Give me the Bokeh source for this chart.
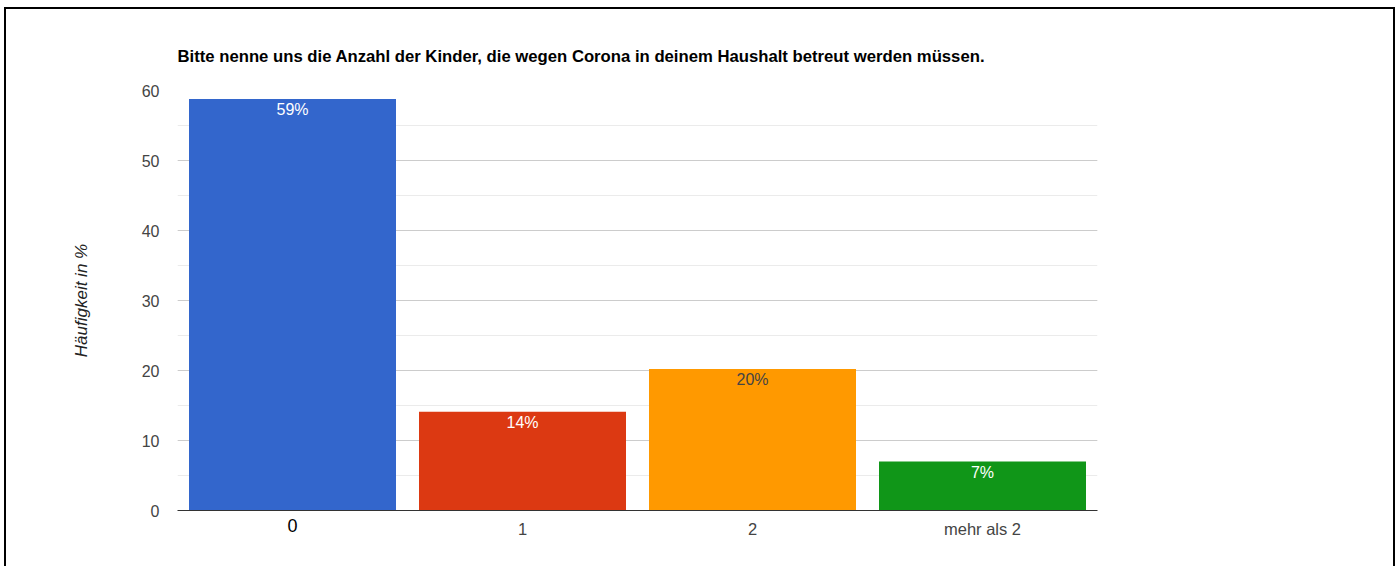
from bokeh.plotting import figure
from bokeh.models import (ColumnDataSource, FactorRange, Range1d, LabelSet,
                          SingleIntervalTicker, CustomJSTickFormatter, CategoricalAxis)
from bokeh.core.properties import value
from bokeh.embed import file_html
from bokeh.resources import INLINE

categories = ["0", "1", "2", "mehr als 2"]
values = [58.8, 14.1, 20.2, 7.0]
pct_labels = ["59%", "14%", "20%", "7%"]
colors = ["#3366CC", "#DC3912", "#FF9900", "#109618"]
label_colors = ["#ffffff", "#ffffff", "#444444", "#ffffff"]
y_ticks = [0, 10, 20, 30, 40, 50, 60]

title = "Bitte nenne uns die Anzahl der Kinder, die wegen Corona in deinem Haushalt betreut werden müssen."
y_label = "Häufigkeit in %"

FONT = "Liberation Sans"

src = ColumnDataSource(dict(cat=categories, val=values, lab=pct_labels,
                            col=colors, lcol=label_colors))

p = figure(width=1391, height=559, output_backend="svg", toolbar_location=None,
           x_range=FactorRange(*categories, range_padding=0),
           y_range=Range1d(0, 60),
           min_border_left=171, min_border_right=300, min_border_top=81,
           min_border_bottom=58)
p.styles = {"border-top": "2px solid black", "border-left": "2px solid black",
            "border-right": "2px solid black", "box-sizing": "border-box",
            "margin-top": "7px", "margin-left": "4px"}

p.title.text = title
p.title.text_font = FONT
p.title.text_font_size = "16.7px"
p.title.text_font_style = "bold"
p.title.text_color = "#000000"
p.title.align = "left"
p.title.offset = 0
p.title.standoff = 50

p.outline_line_color = None
p.background_fill_color = "#ffffff"

p.vbar(x="cat", top="val", width=0.9, source=src, fill_color="col", line_color=None)

labels = LabelSet(x="cat", y="val", text="lab", source=src, text_color="lcol",
                  text_font=value(FONT), text_font_size=value("16px"),
                  text_align="center", text_baseline="top", y_offset=-2)
p.add_layout(labels)

# y axis
p.yaxis.ticker = y_ticks
p.yaxis.axis_line_color = None
p.yaxis.major_tick_line_color = None
p.yaxis.minor_tick_line_color = None
p.yaxis.major_label_text_font = FONT
p.yaxis.major_label_text_font_size = "16px"
p.yaxis.major_label_text_color = "#444444"
p.yaxis.major_label_standoff = 12
p.yaxis.axis_label = y_label
p.yaxis.axis_label_text_font = FONT
p.yaxis.axis_label_text_font_size = "17px"
p.yaxis.axis_label_text_font_style = "italic"
p.yaxis.axis_label_text_color = "#222222"
p.yaxis.axis_label_standoff = 48

p.ygrid.ticker = SingleIntervalTicker(interval=10, num_minor_ticks=2)
p.ygrid.grid_line_color = "#cccccc"
p.ygrid.minor_grid_line_color = "#ebebeb"
p.xgrid.grid_line_color = None

# x axis: first category label (black, larger) on the main axis
xa = p.xaxis[0]
xa.axis_line_color = "#333333"
xa.axis_line_width = 1
xa.major_tick_line_color = None
xa.minor_tick_line_color = None
xa.major_tick_out = 0
xa.major_label_text_font = FONT
xa.major_label_text_font_size = "18px"
xa.major_label_text_color = "#000000"
xa.major_label_standoff = 8
xa.formatter = CustomJSTickFormatter(
    args=dict(first=categories[0]),
    code="return tick == first ? tick : '';")

# remaining category labels (gray) on a second axis pulled up beside it
xb = CategoricalAxis()
xb.axis_line_color = None
xb.major_tick_line_color = None
xb.minor_tick_line_color = None
xb.major_tick_out = 0
xb.major_label_text_font = FONT
xb.major_label_text_font_size = "16.5px"
xb.major_label_text_color = "#444444"
xb.major_label_standoff = -15
xb.formatter = CustomJSTickFormatter(
    args=dict(first=categories[0]),
    code="return tick == first ? '' : tick;")
p.add_layout(xb, "below")

open("out.html", "w").write(file_html(p, INLINE))
